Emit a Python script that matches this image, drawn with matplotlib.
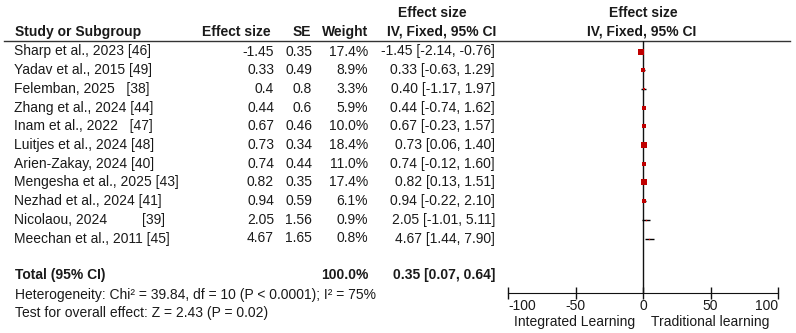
import matplotlib.pyplot as plt
import numpy as np

plt.rcParams['font.family'] = ['Liberation Sans', 'DejaVu Sans']

# Study data
studies = ['Sharp et al., 2023 [46]', 'Yadav et al., 2015 [49]', 'Felemban, 2025   [38]',
           'Zhang et al., 2024 [44]', 'Inam et al., 2022   [47]', 'Luitjes et al., 2024 [48]',
           'Arien-Zakay, 2024 [40]', 'Mengesha et al., 2025 [43]', 'Nezhad et al., 2024 [41]',
           'Nicolaou, 2024         [39]', 'Meechan et al., 2011 [45]']
effect = [-1.45, 0.33, 0.4, 0.44, 0.67, 0.73, 0.74, 0.82, 0.94, 2.05, 4.67]
se = [0.35, 0.49, 0.8, 0.6, 0.46, 0.34, 0.44, 0.35, 0.59, 1.56, 1.65]
weight = [17.4, 8.9, 3.3, 5.9, 10.0, 18.4, 11.0, 17.4, 6.1, 0.9, 0.8]
ci_lo = [-2.14, -0.63, -1.17, -0.74, -0.23, 0.06, -0.12, 0.13, -0.22, -1.01, 1.44]
ci_hi = [-0.76, 1.29, 1.97, 1.62, 1.57, 1.40, 1.60, 1.51, 2.10, 5.11, 7.90]

total_weight = 100.0
total_est, total_lo, total_hi = 0.35, 0.07, 0.64
het_text = 'Heterogeneity: Chi\u00b2 = 39.84, df = 10 (P < 0.0001); I\u00b2 = 75%'
test_text = 'Test for overall effect: Z = 2.43 (P = 0.02)'

xticks = [-100, -50, 0, 50, 100]
left_label = 'Integrated Learning'
right_label = 'Traditional learning'

W, H = 796, 333
row0, dy = 51.5, 18.7
n = len(studies)
total_row = n + 0.95
fs = 10
tc = '#1a1a1a'
red = '#c00000'

fig = plt.figure(figsize=(W / 100, H / 100), dpi=100)
ax = fig.add_axes([0, 0, 1, 1])
ax.set_xlim(0, W)
ax.set_ylim(H, 0)
ax.axis('off')


def ypix(r):
    return row0 + r * dy


# headers
bold = dict(fontsize=fs, fontweight='bold', color=tc, va='center')
ax.text(15, 32, 'Study or Subgroup', ha='left', **bold)
ax.text(271, 32, 'Effect size', ha='right', **bold)
ax.text(311, 32, 'SE', ha='right', **bold)
ax.text(368, 32, 'Weight', ha='right', **bold)
ax.text(432, 13, 'Effect size', ha='center', **bold)
ax.text(442, 32, 'IV, Fixed, 95% CI', ha='center', **bold)
ax.text(643, 13, 'Effect size', ha='center', **bold)
ax.text(642, 32, 'IV, Fixed, 95% CI', ha='center', **bold)
ax.plot([4, 790], [40.5, 40.5], color='#333333', lw=1)

# study rows
norm = dict(fontsize=fs, color=tc, va='center')
for i in range(n):
    y = ypix(i)
    ax.text(14, y, studies[i], ha='left', **norm)
    ax.text(274, y, f'{effect[i]:g}', ha='right', **norm)
    ax.text(312, y, f'{se[i]:g}', ha='right', **norm)
    ax.text(368, y, f'{weight[i]:.1f}%', ha='right', **norm)
    ax.text(495, y, f'{effect[i]:.2f} [{ci_lo[i]:.2f}, {ci_hi[i]:.2f}]', ha='right', **norm)

# total
yt = ypix(total_row)
ax.text(15, yt, 'Total (95% CI)', ha='left', **bold)
ax.text(368, yt, f'{total_weight:.1f}%', ha='right', **bold)
ax.text(495, yt, f'{total_est:.2f} [{total_lo:.2f}, {total_hi:.2f}]', ha='right', **bold)
ax.text(15, 295, het_text, ha='left', **norm)
ax.text(15, 313, test_text, ha='left', **norm)

# forest panel
x0, x1, ytop, ybot = 508, 778, 40.5, 292.5
fx = fig.add_axes([x0 / W, 1 - ybot / H, (x1 - x0) / W, (ybot - ytop) / H])
fx.set_xlim(-100, 100)
fx.set_ylim((ybot - row0) / dy, (ytop - row0) / dy)
fx.patch.set_alpha(0)
for s in ['left', 'right', 'top']:
    fx.spines[s].set_visible(False)
fx.spines['bottom'].set_color('#111111')
fx.set_yticks([])
fx.set_xticks(xticks)
fx.set_xticklabels([str(t) for t in xticks], fontsize=fs, color=tc)
fx.tick_params(axis='x', direction='inout', length=8, width=1, pad=1, color='#111111')
labs = fx.get_xticklabels()
labs[0].set_ha('left')
labs[-1].set_ha('right')
fx.axvline(0, color='#111111', lw=1)

rows = np.arange(n)
fx.hlines(rows, ci_lo, ci_hi, color='black', lw=1)
for i in range(n):
    ms = 1.4 * np.sqrt(weight[i]) * 0.72
    fx.plot(effect[i], rows[i], marker='s', ms=ms, color=red, mew=0, ls='none')
fx.fill([total_lo, total_est, total_hi, total_est],
        [total_row, total_row - 0.3, total_row, total_row + 0.3], color='black', lw=0)

ax.text(575, 322, left_label, ha='center', **norm)
ax.text(710, 322, right_label, ha='center', **norm)

fig.savefig('out.png', dpi=100)
